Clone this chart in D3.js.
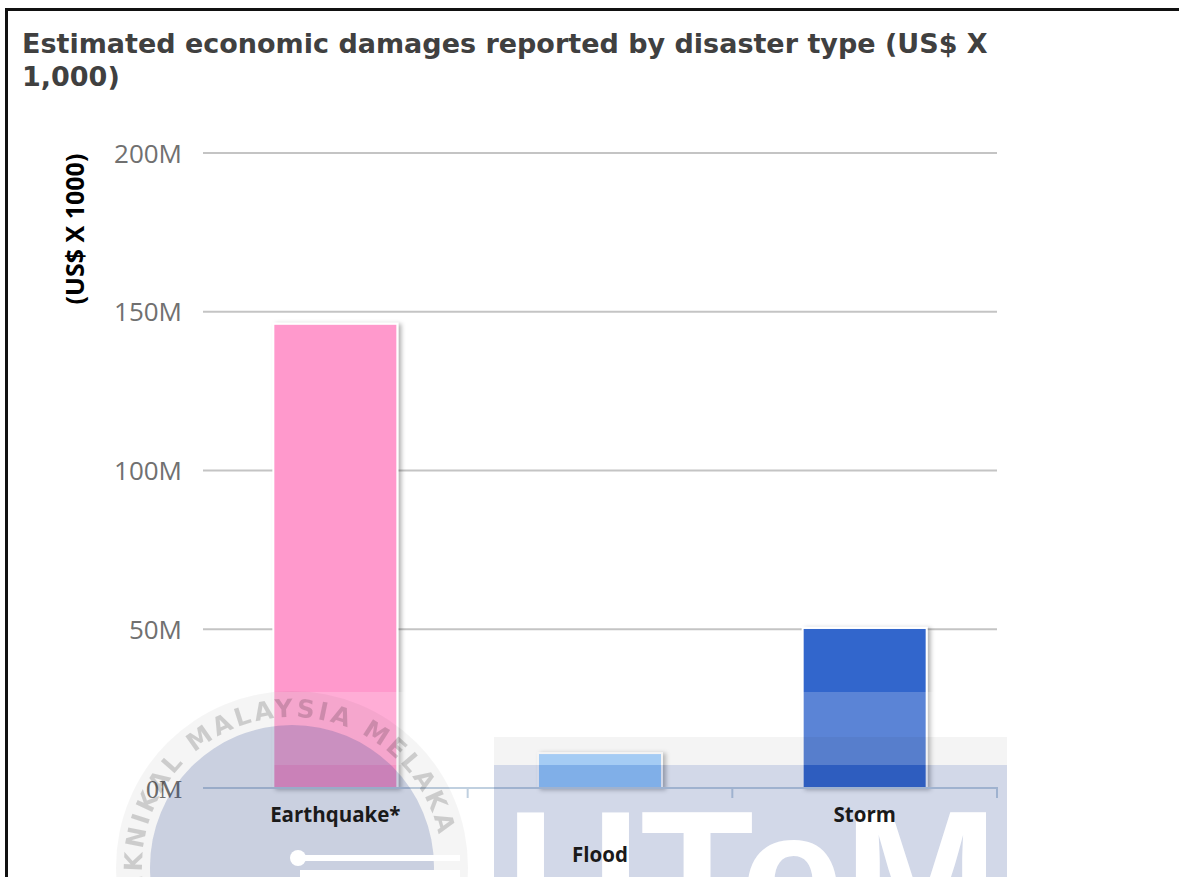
<!DOCTYPE html>
<html>
<head>
<meta charset="utf-8">
<script src="https://cdn.jsdelivr.net/npm/d3@7"></script>
<style>
  html, body { margin: 0; padding: 0; background: #fff; }
  svg { display: block; }
</style>
</head>
<body>
<div id="chart"></div>
<script>
// data
const categories = ['Earthquake*', 'Flood', 'Storm']
const damages = [146.2e6, 11.0e6, 50.4e6] // US$ x 1000
const barColors = ['#ff99cc', '#99ccff', '#3366cc']
const yTicks = [0, 50e6, 100e6, 150e6, 200e6]
const titleLines = ['Estimated economic damages reported by disaster type (US$ X', '1,000)']
const yTitle = '(US$ X 1000)'

const W = 1179, H = 877
const margin = { top: 153, right: 182, bottom: 89, left: 203 }
const innerWidth = W - margin.left - margin.right
const innerHeight = H - margin.top - margin.bottom

const AppendG = (parent, left, top, className = "") => {
  return parent.append('g')
    .attr("transform", "translate(" + left + "," + top + ")")
    .attr("class", className)
}

const svg = d3.select('#chart').append('svg')
  .attr('width', W)
  .attr('height', H)

const defs = svg.append('defs')
defs.append('filter').attr('id', 'shadow')
  .attr('x', '-20%').attr('y', '-20%').attr('width', '140%').attr('height', '140%')
  .append('feDropShadow')
  .attr('dx', 3).attr('dy', 1).attr('stdDeviation', 2)
  .attr('flood-color', '#000').attr('flood-opacity', 0.3)

// frame
svg.append('line').attr('x1', 6.5).attr('x2', 6.5).attr('y1', 8).attr('y2', H)
  .attr('stroke', '#111').attr('stroke-width', 3)
svg.append('line').attr('x1', 5).attr('x2', W).attr('y1', 9.5).attr('y2', 9.5)
  .attr('stroke', '#111').attr('stroke-width', 3)

// title
svg.append('text')
  .attr('x', 22).attr('y', 53)
  .attr('font-family', 'DejaVu Sans, Verdana, sans-serif')
  .attr('font-weight', 'bold')
  .attr('font-size', 27)
  .attr('fill', '#404040')
  .selectAll('tspan').data(titleLines).join('tspan')
  .attr('x', 22)
  .attr('dy', (d, i) => i ? 33 : 0)
  .text(d => d)

const rootG = AppendG(svg, margin.left, margin.top, 'plot')

const x = d3.scaleBand().domain(categories).range([0, innerWidth]).paddingInner(0).paddingOuter(0)
const y = d3.scaleLinear().domain([0, 200e6]).range([innerHeight, 0])

// grid lines
rootG.append('g').attr('class', 'grid')
  .selectAll('line').data(yTicks.filter(d => d > 0)).join('line')
  .attr('x1', 0).attr('x2', innerWidth)
  .attr('y1', d => y(d)).attr('y2', d => y(d))
  .attr('stroke', '#c4c4c4').attr('stroke-width', 2)

// bars
const barW = 124
rootG.append('g').attr('class', 'bars')
  .selectAll('rect').data(damages).join('rect')
  .attr('x', (d, i) => x(categories[i]) + (x.bandwidth() - barW) / 2)
  .attr('y', d => y(d))
  .attr('width', barW)
  .attr('height', d => y(0) - y(d))
  .attr('fill', (d, i) => barColors[i])
  .attr('stroke', '#fff').attr('stroke-width', 2)
  .attr('filter', 'url(#shadow)')

// x axis: line + ticks between categories
const xAxisG = AppendG(rootG, 0, innerHeight, 'x axis')
xAxisG.append('line').attr('x1', 0).attr('x2', innerWidth + 1)
  .attr('stroke', '#c0d0e0').attr('stroke-width', 2)
xAxisG.selectAll('line.tick').data(categories).join('line')
  .attr('class', 'tick')
  .attr('x1', d => x(d) + x.bandwidth()).attr('x2', d => x(d) + x.bandwidth())
  .attr('y1', 0).attr('y2', 10)
  .attr('stroke', '#c0d0e0').attr('stroke-width', 2)

// y axis labels
const yAxis = d3.axisLeft(y).tickValues(yTicks).tickSize(0).tickPadding(21)
  .tickFormat(d => (d / 1e6) + 'M')
const yAxisG = AppendG(rootG, 0, 0, 'y axis').call(yAxis)
yAxisG.select('.domain').remove()
yAxisG.selectAll('text')
  .attr('font-family', d => d === 0 ? 'Liberation Serif, serif' : 'Open Sans, sans-serif')
  .attr('font-size', 26)
  .attr('fill', '#707070')
  .attr('dy', '0.35em')

// y axis title
svg.append('text')
  .attr('transform', 'translate(84,229) rotate(-90)')
  .attr('text-anchor', 'middle')
  .attr('font-family', 'Open Sans, sans-serif')
  .attr('font-weight', 'bold')
  .attr('font-size', 25)
  .attr('fill', '#000')
  .text(yTitle)

// watermark (drawn over the bars, under the labels)
const wm = svg.append('g').attr('class', 'watermark')
wm.append('rect').attr('x', 150).attr('y', 692).attr('width', 860).attr('height', 73)
  .attr('fill', '#fff').attr('opacity', 0.2)
wm.append('circle').attr('cx', 292).attr('cy', 867).attr('r', 176)
  .attr('fill', '#000').attr('opacity', 0.04)
wm.append('circle').attr('cx', 292).attr('cy', 867).attr('r', 142)
  .attr('fill', 'rgb(30,60,140)').attr('opacity', 0.2)
wm.append('path').attr('id', 'ring')
  .attr('d', d3.arc()({ innerRadius: 150, outerRadius: 150, startAngle: -Math.PI * 0.62, endAngle: Math.PI * 0.62 }).split('L')[0])
  .attr('transform', 'translate(292,867)')
  .attr('fill', 'none')
wm.append('text')
  .attr('font-family', 'DejaVu Sans, sans-serif')
  .attr('font-weight', 'bold')
  .attr('font-size', 25)
  .attr('letter-spacing', 3)
  .attr('fill', '#000').attr('opacity', 0.16)
  .append('textPath').attr('href', '#ring').attr('startOffset', '1%')
  .text('TEKNIKAL MALAYSIA MELAKA')
wm.append('circle').attr('cx', 298).attr('cy', 858).attr('r', 8).attr('fill', '#fff')
wm.append('rect').attr('x', 298).attr('y', 855).attr('width', 162).attr('height', 6).attr('fill', '#fff')
wm.append('rect').attr('x', 300).attr('y', 870).attr('width', 160).attr('height', 7).attr('fill', '#fff')
wm.append('rect').attr('x', 494).attr('y', 737).attr('width', 513).attr('height', 28)
  .attr('fill', '#000').attr('opacity', 0.045)
wm.append('rect').attr('x', 494).attr('y', 765).attr('width', 513).attr('height', 112)
  .attr('fill', 'rgb(30,60,140)').attr('opacity', 0.2)
wm.append('text')
  .attr('x', 506).attr('y', 940)
  .attr('font-family', 'Liberation Sans, Arial, sans-serif')
  .attr('font-weight', 'bold')
  .attr('font-size', 186)
  .attr('fill', '#fff')
  .text('UTeM')

// category labels on top of everything, staggered like the original
AppendG(svg, margin.left, margin.top + innerHeight, 'x labels')
  .selectAll('text').data(categories).join('text')
  .attr('x', d => x(d) + x.bandwidth() / 2)
  .attr('y', (d, i) => i % 2 ? 74 : 34)
  .attr('text-anchor', 'middle')
  .attr('font-family', 'Open Sans, sans-serif')
  .attr('font-weight', 700)
  .attr('font-size', 20.5)
  .attr('fill', '#1a1a1a')
  .text(d => d)
</script>
</body>
</html>
